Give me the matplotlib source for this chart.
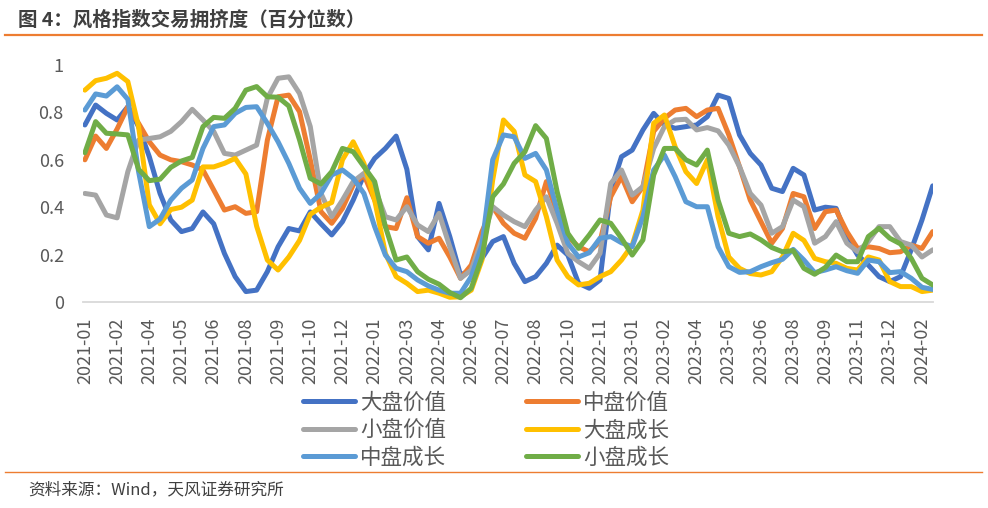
import numpy as np
import matplotlib
matplotlib.use("Agg")
import matplotlib.pyplot as plt

plt.rcParams['font.family'] = ['Noto Sans CJK SC', 'DejaVu Sans']

# values read every 2 weeks (index 0, 2, ..., 158)
series_names = ['大盘价值', '中盘价值', '小盘价值', '大盘成长', '中盘成长', '小盘成长']
series_colors = ['#4472C4', '#ED7D31', '#A5A5A5', '#FFC000', '#5B9BD5', '#70AD47']

large_value = [0.747, 0.831, 0.796, 0.768, 0.824, 0.74, 0.613, 0.458, 0.346, 0.297, 0.31, 0.38, 0.33, 0.205, 0.107, 0.044,
               0.05, 0.128, 0.233, 0.31, 0.30, 0.38, 0.33, 0.283, 0.339, 0.43, 0.536, 0.606, 0.648, 0.70, 0.56, 0.276,
               0.22, 0.416, 0.276, 0.114, 0.135, 0.184, 0.255, 0.276, 0.163, 0.086, 0.107, 0.163, 0.24, 0.198, 0.079, 0.058,
               0.093, 0.47, 0.613, 0.641, 0.726, 0.796, 0.747, 0.733, 0.74, 0.747, 0.782, 0.873, 0.859, 0.705, 0.627, 0.578,
               0.48, 0.466, 0.564, 0.536, 0.388, 0.40, 0.395, 0.276, 0.198, 0.156, 0.107, 0.086, 0.107, 0.22, 0.346, 0.49]
mid_value = [0.60, 0.70, 0.648, 0.73, 0.824, 0.754, 0.676, 0.62, 0.60, 0.592, 0.578, 0.557, 0.473, 0.388, 0.402, 0.374,
             0.381, 0.683, 0.866, 0.873, 0.803, 0.60, 0.381, 0.332, 0.395, 0.494, 0.536, 0.43, 0.318, 0.31, 0.44, 0.276,
             0.248, 0.269, 0.19, 0.10, 0.156, 0.297, 0.402, 0.332, 0.29, 0.269, 0.353, 0.508, 0.374, 0.276, 0.233, 0.212,
             0.255, 0.444, 0.529, 0.423, 0.487, 0.72, 0.775, 0.81, 0.817, 0.782, 0.81, 0.817, 0.705, 0.571, 0.43, 0.339,
             0.248, 0.31, 0.458, 0.444, 0.31, 0.381, 0.388, 0.297, 0.226, 0.233, 0.226, 0.208, 0.212, 0.24, 0.226, 0.297]
small_value = [0.458, 0.451, 0.367, 0.355, 0.55, 0.683, 0.69, 0.697, 0.72, 0.761, 0.813, 0.768, 0.72, 0.627, 0.62, 0.641,
               0.662, 0.86, 0.944, 0.95, 0.88, 0.74, 0.458, 0.36, 0.43, 0.508, 0.543, 0.48, 0.36, 0.346, 0.402, 0.325,
               0.297, 0.374, 0.233, 0.10, 0.135, 0.262, 0.402, 0.367, 0.339, 0.318, 0.388, 0.444, 0.332, 0.205, 0.17, 0.142,
               0.205, 0.50, 0.557, 0.451, 0.487, 0.648, 0.74, 0.768, 0.771, 0.726, 0.736, 0.722, 0.662, 0.571, 0.458, 0.409,
               0.29, 0.318, 0.43, 0.402, 0.248, 0.276, 0.339, 0.248, 0.212, 0.255, 0.318, 0.318, 0.255, 0.24, 0.19, 0.22]
large_growth = [0.894, 0.934, 0.944, 0.965, 0.93, 0.74, 0.41, 0.33, 0.39, 0.40, 0.43, 0.57, 0.57, 0.585, 0.606, 0.54,
                0.32, 0.177, 0.135, 0.19, 0.26, 0.37, 0.40, 0.42, 0.60, 0.676, 0.585, 0.43, 0.205, 0.107, 0.079, 0.044,
                0.05, 0.037, 0.02, 0.022, 0.05, 0.177, 0.515, 0.768, 0.72, 0.536, 0.508, 0.36, 0.177, 0.107, 0.072, 0.079,
                0.107, 0.128, 0.177, 0.24, 0.388, 0.754, 0.789, 0.655, 0.55, 0.50, 0.60, 0.36, 0.19, 0.142, 0.12, 0.114,
                0.128, 0.19, 0.29, 0.26, 0.184, 0.17, 0.163, 0.142, 0.135, 0.19, 0.177, 0.086, 0.065, 0.065, 0.044, 0.05]
mid_growth = [0.81, 0.878, 0.869, 0.908, 0.855, 0.55, 0.318, 0.35, 0.43, 0.48, 0.515, 0.648, 0.74, 0.747, 0.796, 0.821,
              0.824, 0.754, 0.676, 0.585, 0.48, 0.416, 0.458, 0.536, 0.557, 0.522, 0.458, 0.318, 0.198, 0.142, 0.128, 0.093,
              0.068, 0.05, 0.037, 0.037, 0.107, 0.24, 0.60, 0.705, 0.697, 0.606, 0.627, 0.557, 0.388, 0.248, 0.19, 0.208,
              0.269, 0.276, 0.25, 0.233, 0.36, 0.557, 0.62, 0.529, 0.423, 0.402, 0.402, 0.233, 0.149, 0.125, 0.128, 0.149,
              0.166, 0.18, 0.222, 0.177, 0.124, 0.135, 0.149, 0.132, 0.121, 0.177, 0.17, 0.124, 0.128, 0.10, 0.062, 0.053]
small_growth = [0.63, 0.761, 0.712, 0.709, 0.705, 0.56, 0.512, 0.518, 0.568, 0.595, 0.61, 0.74, 0.779, 0.775, 0.817, 0.894,
                0.909, 0.866, 0.864, 0.827, 0.684, 0.522, 0.498, 0.55, 0.648, 0.634, 0.571, 0.508, 0.318, 0.177, 0.19, 0.128,
                0.096, 0.075, 0.04, 0.018, 0.058, 0.19, 0.444, 0.498, 0.585, 0.634, 0.744, 0.69, 0.466, 0.29, 0.226, 0.283,
                0.346, 0.332, 0.269, 0.198, 0.262, 0.536, 0.648, 0.648, 0.60, 0.578, 0.641, 0.43, 0.29, 0.276, 0.287, 0.262,
                0.23, 0.212, 0.217, 0.142, 0.117, 0.146, 0.198, 0.17, 0.17, 0.276, 0.311, 0.269, 0.245, 0.184, 0.10, 0.072]

tick_labels = ['2021-01', '2021-02', '2021-04', '2021-05', '2021-06', '2021-08', '2021-09', '2021-10', '2021-12',
               '2022-01', '2022-03', '2022-04', '2022-06', '2022-07', '2022-08', '2022-10', '2022-11',
               '2023-01', '2023-02', '2023-04', '2023-05', '2023-06', '2023-08', '2023-09', '2023-11', '2023-12',
               '2024-02']

all_series = [large_value, mid_value, small_value, large_growth, mid_growth, small_growth]

fig = plt.figure(figsize=(9.88, 5.08), dpi=100)
ax = fig.add_axes([83.3 / 988, 1 - 302 / 508, (932.7 - 83.3) / 988, 237 / 508])

handles = []
for vals, name, col in zip(all_series, series_names, series_colors):
    x = np.arange(len(vals)) * 2
    h, = ax.plot(x, vals, color=col, lw=3.6, label=name, solid_joinstyle='round', solid_capstyle='round')
    handles.append(h)

ax.set_xlim(-0.3, 158)
ax.set_ylim(0, 1)
ax.set_yticks([0, 0.2, 0.4, 0.6, 0.8, 1])
ax.set_yticklabels(['0', '0.2', '0.4', '0.6', '0.8', '1'])
ax.set_xticks(np.arange(len(tick_labels)) * 6)
ax.set_xticklabels(tick_labels, rotation=90)
ax.tick_params(axis='y', length=0, pad=14, labelsize=13, labelcolor='#595959')
ax.tick_params(axis='x', length=0, pad=11, labelsize=13, labelcolor='#595959')
for s in ['left', 'right', 'top']:
    ax.spines[s].set_visible(False)
ax.spines['bottom'].set_color('#D9D9D9')
ax.spines['bottom'].set_linewidth(1.3)

order = [0, 2, 4, 1, 3, 5]
fig.legend([handles[i] for i in order], [series_names[i] for i in order],
           loc='center', bbox_to_anchor=(0.492, 0.153), ncol=2, frameon=False,
           fontsize=15.5, handlelength=2.4, handletextpad=0.25, columnspacing=3.7,
           labelspacing=0.25, labelcolor='#595959')

# title, rules and source
fig.text(18 / 988, 1 - 20 / 508, '图 4：风格指数交易拥挤度（百分位数）', fontsize=14, fontweight='bold',
         color='#3F3F3F', va='center', ha='left')
fig.add_artist(plt.Line2D([5 / 988, 982 / 988], [1 - 35 / 508, 1 - 35 / 508], color='#ED7D31', lw=1.6))
fig.add_artist(plt.Line2D([5 / 988, 982 / 988], [1 - 472 / 508, 1 - 472 / 508], color='#ED7D31', lw=1.0))
fig.text(28 / 988, 1 - 490 / 508, '资料来源：Wind，天风证券研究所', fontsize=12, color='#404040',
         va='center', ha='left')

fig.savefig('out.png', dpi=100)
